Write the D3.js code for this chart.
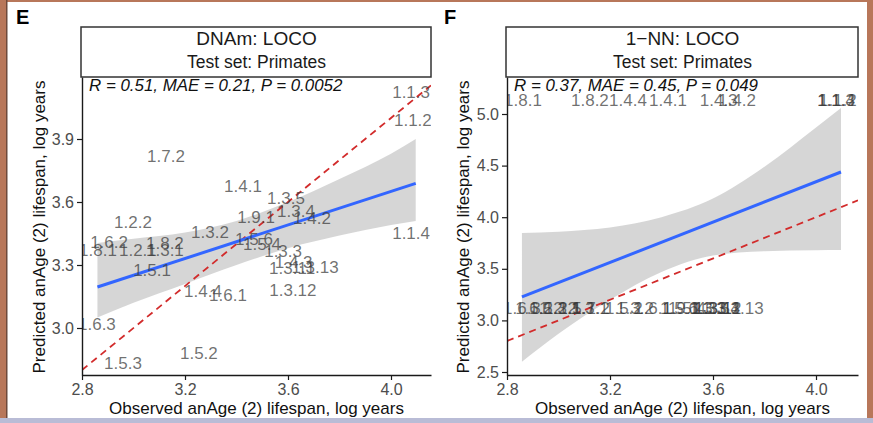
<!DOCTYPE html>
<html>
<head>
<meta charset="utf-8">
<script src="https://cdn.jsdelivr.net/npm/d3@7"></script>
<style>
  html, body { margin: 0; padding: 0; background: #fff; }
  svg { display: block; font-family: "Liberation Sans", Arial, Helvetica, sans-serif; }
</style>
</head>
<body>
<svg id="chart" width="873" height="423"></svg>
<script>
// ---------------- DATA ----------------
const species = ["1.1.3","1.1.2","1.7.2","1.4.1","1.3.5","1.3.4","1.4.2","1.9.1","1.2.2","1.1.4",
  "1.3.2","1.5.6","1.5.4","1.3.3","1.4.3","1.3.13","1.3.11","1.3.12","1.4.4","1.6.1",
  "1.6.3","1.5.3","1.5.2","1.6.2","1.8.1","1.2.1","1.8.2","1.3.1","1.5.1"];
const observed = [4.078,4.085,3.126,3.425,3.592,3.631,3.693,3.476,2.998,4.078,
  3.297,3.468,3.499,3.581,3.622,3.705,3.616,3.619,3.270,3.367,
  2.858,2.959,3.254,2.905,2.862,3.017,3.122,3.122,3.072];
const predictedDNAm = [4.124,3.990,3.819,3.676,3.619,3.557,3.524,3.529,3.505,3.452,
  3.457,3.424,3.400,3.367,3.314,3.290,3.286,3.181,3.176,3.157,
  3.019,2.833,2.881,3.410,3.371,3.371,3.405,3.371,3.276];
const predicted1NN = [5.136,5.136,3.120,5.136,3.120,3.120,5.136,3.120,3.120,5.136,
  3.120,3.120,3.120,3.120,5.136,3.120,3.120,3.120,5.136,3.120,
  3.120,3.120,3.120,3.120,5.136,3.120,5.136,3.120,3.120];

// regression fit and confidence band
const fitX_E = [2.86, 4.096];
const fitY_E = [3.195, 3.689];
const bandX_E  = [2.86, 3.0, 3.2, 3.4, 3.6, 3.8, 4.0, 4.096];
const bandHi_E = [3.405, 3.425, 3.455, 3.51, 3.60, 3.71, 3.83, 3.90];
const bandLo_E = [3.05, 3.12, 3.21, 3.30, 3.38, 3.44, 3.49, 3.51];

const fitX_F = [2.858, 4.097];
const fitY_F = [3.227, 4.438];
const bandX_F  = [2.858, 3.0, 3.2, 3.4, 3.6, 3.8, 4.0, 4.097];
const bandHi_F = [3.847, 3.86, 3.90, 4.0, 4.18, 4.49, 4.87, 5.058];
const bandLo_F = [2.60, 2.87, 3.20, 3.47, 3.63, 3.67, 3.68, 3.682];

const xTicks = [2.8, 3.2, 3.6, 4.0];
const yTicksE = [3.0, 3.3, 3.6, 3.9];
const yTicksF = [2.5, 3.0, 3.5, 4.0, 4.5, 5.0];

const panelLetters = ["E", "F"];
const stripTitlesE = ["DNAm: LOCO", "Test set: Primates"];
const stripTitlesF = ["1\u2212NN: LOCO", "Test set: Primates"];
const statsE = "R = 0.51, MAE = 0.21, P = 0.0052";
const statsF = "R = 0.37, MAE = 0.45, P = 0.049";
const xTitle = "Observed anAge (2) lifespan, log years";
const yTitle = "Predicted anAge (2) lifespan, log years";

// ---------------- DRAW ----------------
const svg = d3.select("#chart");

// frame decoration
svg.append("rect").attr("x",0).attr("y",0).attr("width",873).attr("height",423).attr("fill","#fff");
svg.append("rect").attr("x",0).attr("y",0).attr("width",873).attr("height",2).attr("fill","#b8775a");
svg.append("rect").attr("x",0).attr("y",0).attr("width",6).attr("height",423).attr("fill","#b8775a");
svg.append("rect").attr("x",6).attr("y",0).attr("width",1.5).attr("height",423).attr("fill","#6e4a3c");
svg.append("rect").attr("x",867).attr("y",0).attr("width",6).attr("height",423).attr("fill","#b8775a");
svg.append("rect").attr("x",0).attr("y",418).attr("width",873).attr("height",5).attr("fill","#b9bcd6");

function drawPanel(cfg) {
  const g = svg.append("g");
  const {left, right, top, bottom} = cfg;
  const x = d3.scaleLinear().domain(cfg.xDomain).range([left, right]);
  const y = d3.scaleLinear().domain(cfg.yDomain).range([bottom, top]);

  const clipId = "clip" + cfg.id;
  svg.append("defs").append("clipPath").attr("id", clipId)
    .append("rect").attr("x", left).attr("y", top).attr("width", right - left).attr("height", bottom - top);
  const pg = g.append("g").attr("clip-path", `url(#${clipId})`);

  // band
  const bandData = cfg.bandX.map((v, i) => ({x: v, lo: cfg.bandLo[i], hi: cfg.bandHi[i]}));
  pg.append("path").datum(bandData)
    .attr("d", d3.area().curve(d3.curveMonotoneX).x(d => x(d.x)).y0(d => y(d.lo)).y1(d => y(d.hi)))
    .attr("fill", "#999999").attr("opacity", 0.4);

  // identity dashed line
  const xd = cfg.xDomain;
  pg.append("line")
    .attr("x1", x(xd[0])).attr("y1", y(xd[0])).attr("x2", x(xd[1])).attr("y2", y(xd[1]))
    .attr("stroke", "#d22b2b").attr("stroke-width", 1.8).attr("stroke-dasharray", "7,5");

  // fit line
  pg.append("line")
    .attr("x1", x(cfg.fitX[0])).attr("y1", y(cfg.fitY[0]))
    .attr("x2", x(cfg.fitX[1])).attr("y2", y(cfg.fitY[1]))
    .attr("stroke", "#3366FF").attr("stroke-width", 3);

  // labels
  pg.selectAll("text.lab").data(species.map((s, i) => ({s, x: observed[i], y: cfg.pred[i]})))
    .enter().append("text").attr("class", "lab")
    .attr("x", d => x(d.x)).attr("y", d => y(d.y)).attr("dy", "0.36em")
    .attr("text-anchor", "middle").attr("font-size", 17)
    .attr("fill", "#3a3a3a").attr("fill-opacity", 0.72)
    .text(d => d.s);

  // axes
  const xAxis = d3.axisBottom(x).tickValues(xTicks).tickFormat(d3.format(".1f")).tickSize(5).tickSizeOuter(0);
  const gx = g.append("g").attr("transform", `translate(0,${bottom})`).call(xAxis);
  const yAxis = d3.axisLeft(y).tickValues(cfg.yTicks).tickFormat(d3.format(".1f")).tickSize(5).tickSizeOuter(0);
  const gy = g.append("g").attr("transform", `translate(${left},0)`).call(yAxis);
  [gx, gy].forEach(a => {
    a.select(".domain").attr("stroke", "#1a1a1a").attr("stroke-width", 1.4);
    a.selectAll(".tick line").attr("stroke", "#1a1a1a").attr("stroke-width", 1.2);
    a.selectAll(".tick text").attr("fill", "#4d4d4d").attr("font-size", 16)
      .attr("font-family", "Liberation Sans, Arial, sans-serif");
  });
  gx.selectAll(".tick text").attr("dy", "0.9em").attr("y", 6);
  gy.selectAll(".tick text").attr("x", -8);

  // strip
  g.append("rect").attr("x", left - 1).attr("y", 27).attr("width", right - left + 1).attr("height", 50)
    .attr("fill", "#fff").attr("stroke", "#333").attr("stroke-width", 1.5);
  const cx = (left + right) / 2;
  g.append("text").attr("x", cx).attr("y", 45).attr("text-anchor", "middle").attr("font-size", 19)
    .attr("fill", "#1a1a1a").text(cfg.strip[0]);
  g.append("text").attr("x", cx).attr("y", 68).attr("text-anchor", "middle").attr("font-size", 17.5)
    .attr("fill", "#1a1a1a").text(cfg.strip[1]);

  // stats annotation
  g.append("text").attr("x", left + 7).attr("y", 91).attr("font-size", 16.9).attr("font-style", "italic")
    .attr("fill", "#111").text(cfg.stats);

  // axis titles
  g.append("text").attr("x", cx).attr("y", 414).attr("text-anchor", "middle").attr("font-size", 17)
    .attr("fill", "#111").text(xTitle);
  g.append("text").attr("transform", `translate(${cfg.yTitleX},227) rotate(-90)`)
    .attr("text-anchor", "middle").attr("font-size", 17).attr("fill", "#111").text(yTitle);

  // panel letter
  g.append("text").attr("x", cfg.letterX).attr("y", 24).attr("font-size", 20).attr("font-weight", "bold")
    .attr("fill", "#000").text(cfg.letter);
}

drawPanel({
  id: "E", letter: panelLetters[0], letterX: 16,
  left: 82, right: 431, top: 77, bottom: 375,
  xDomain: [2.8, 2.8 + (431 - 82) / 257.5],
  yDomain: [3.0 - (375 - 328) / 210, 3.0 + (328 - 77) / 210],
  yTicks: yTicksE, pred: predictedDNAm,
  fitX: fitX_E, fitY: fitY_E, bandX: bandX_E, bandLo: bandLo_E, bandHi: bandHi_E,
  strip: stripTitlesE, stats: statsE, yTitleX: 45
});
drawPanel({
  id: "F", letter: panelLetters[1], letterX: 444,
  left: 507, right: 858, top: 77, bottom: 375,
  xDomain: [2.8, 2.8 + (858 - 507) / 257.5],
  yDomain: [2.5 - (375 - 372) / 103.2, 2.5 + (372 - 77) / 103.2],
  yTicks: yTicksF, pred: predicted1NN,
  fitX: fitX_F, fitY: fitY_F, bandX: bandX_F, bandLo: bandLo_F, bandHi: bandHi_F,
  strip: stripTitlesF, stats: statsF, yTitleX: 469
});
</script>
</body>
</html>
